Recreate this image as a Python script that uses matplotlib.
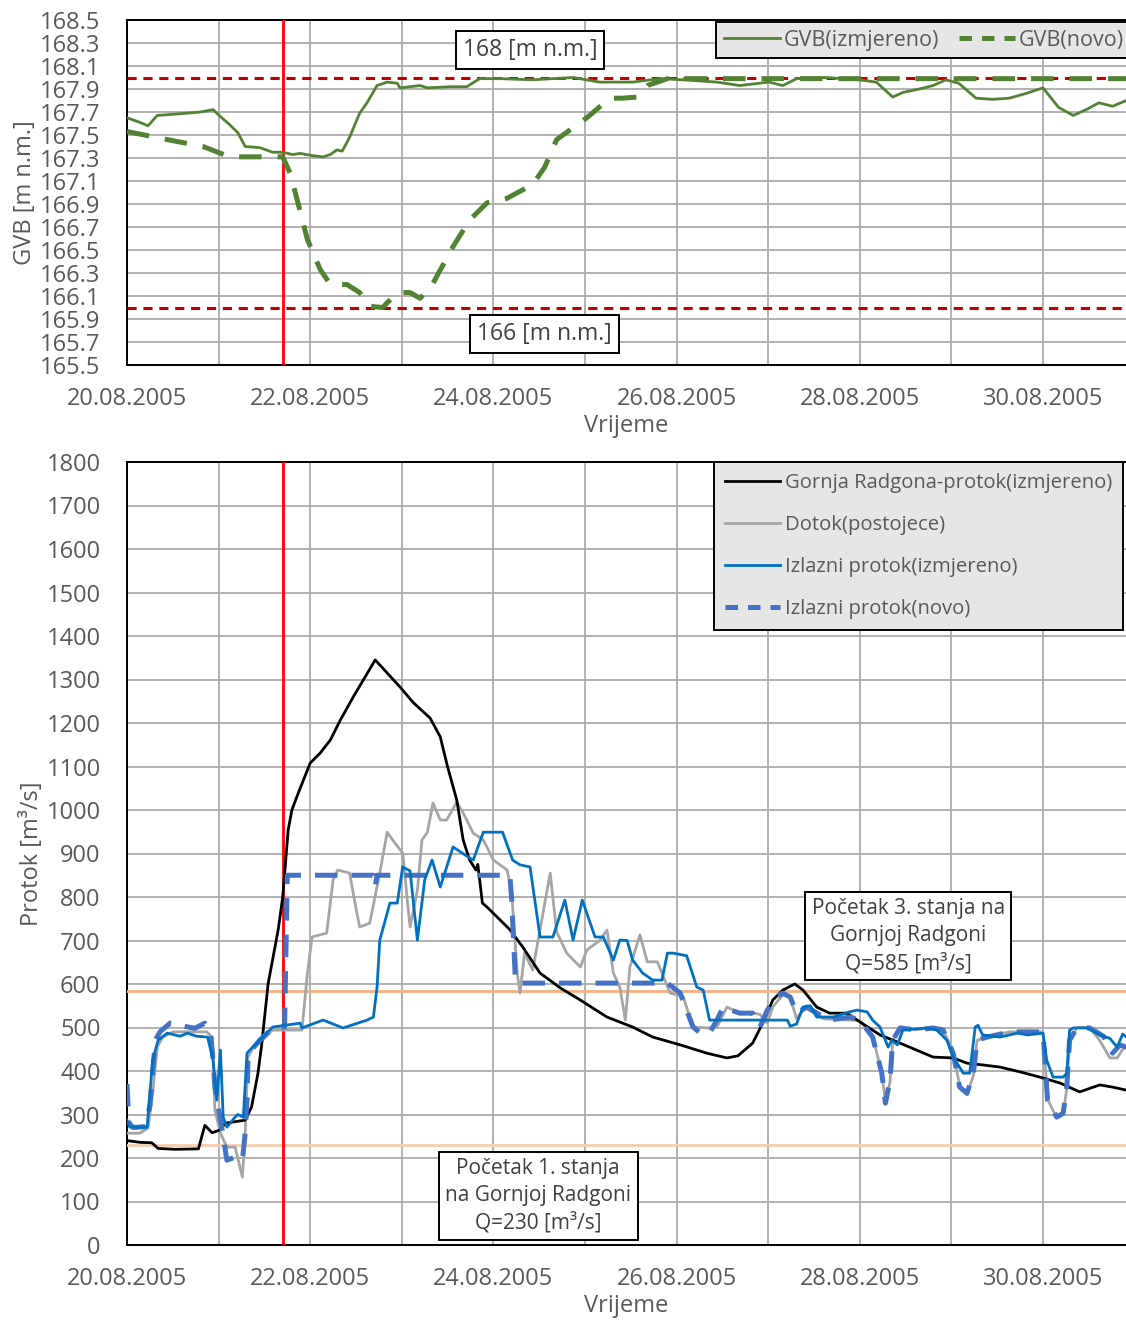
import numpy as np
import matplotlib
matplotlib.use('Agg')
import matplotlib.pyplot as plt
import matplotlib.dates as mdates
from matplotlib.lines import Line2D

plt.rcParams['font.family'] = ['Open Sans', 'DejaVu Sans']

# ---------------- data (days after 20.08.2005 00:00) ----------------
gvb_izm_t = [0.00, 0.14, 0.23, 0.33, 0.50, 0.66, 0.80, 0.94, 1.02, 1.12, 1.21, 1.29, 1.45, 1.59, 1.70,
             1.81, 1.89, 2.03, 2.14, 2.22, 2.29, 2.35, 2.43, 2.54, 2.62, 2.73, 2.84, 2.95, 2.98, 3.09,
             3.20, 3.28, 3.53, 3.71, 3.85, 4.07, 4.43, 4.87, 5.16, 5.52, 5.82, 6.07, 6.44, 6.69, 7.01,
             7.16, 7.31, 7.63, 7.99, 8.18, 8.36, 8.47, 8.65, 8.80, 8.94, 9.08, 9.27, 9.45, 9.63, 9.81,
             10.00, 10.17, 10.33, 10.47, 10.61, 10.76, 10.91]
gvb_izm_v = [167.65, 167.61, 167.58, 167.67, 167.68, 167.69, 167.70, 167.72, 167.66, 167.59, 167.52, 167.40,
             167.39, 167.35, 167.35, 167.33, 167.34, 167.32, 167.31, 167.33, 167.37, 167.36, 167.48, 167.69,
             167.78, 167.93, 167.96, 167.95, 167.91, 167.92, 167.93, 167.91, 167.92, 167.92, 167.99, 167.99,
             167.98, 168.00, 167.96, 167.96, 167.99, 167.98, 167.96, 167.93, 167.96, 167.93, 167.99, 168.00,
             167.98, 167.96, 167.83, 167.87, 167.90, 167.93, 167.98, 167.95, 167.82, 167.81, 167.82, 167.86,
             167.91, 167.74, 167.67, 167.72, 167.78, 167.75, 167.80]

gvb_novo_t = [0.00, 0.44, 0.83, 1.12, 1.38, 1.70, 1.78, 1.86, 1.97, 2.11, 2.22, 2.40, 2.54, 2.65, 2.79,
              2.95, 3.09, 3.20, 3.34, 3.56, 3.74, 3.93, 4.15, 4.43, 4.56, 4.69, 5.02, 5.27, 5.41, 5.57,
              5.68, 5.90, 10.91]
gvb_novo_v = [167.53, 167.46, 167.40, 167.31, 167.31, 167.31, 167.17, 166.93, 166.59, 166.33, 166.20, 166.20,
              166.13, 166.01, 166.00, 166.13, 166.13, 166.08, 166.21, 166.53, 166.76, 166.91, 166.95, 167.07,
              167.22, 167.46, 167.65, 167.82, 167.82, 167.83, 167.93, 167.99, 167.99]

gr_t = [0.00, 0.14, 0.27, 0.34, 0.52, 0.78, 0.85, 0.93, 1.02, 1.07, 1.29, 1.36, 1.43, 1.47, 1.54, 1.65,
        1.70, 1.76, 1.80, 1.87, 2.00, 2.11, 2.22, 2.33, 2.47, 2.60, 2.71, 2.84, 2.98, 3.12, 3.31, 3.42,
        3.50, 3.60, 3.67, 3.74, 3.81, 3.83, 3.88, 3.93, 4.04, 4.18, 4.32, 4.51, 4.73, 4.95, 5.24, 5.52,
        5.74, 6.04, 6.33, 6.55, 6.67, 6.83, 6.94, 7.05, 7.16, 7.29, 7.38, 7.53, 7.67, 7.86, 8.00, 8.22,
        8.44, 8.80, 9.02, 9.17, 9.34, 9.53, 9.75, 10.00, 10.19, 10.40, 10.62, 10.76, 10.91]
gr_v = [240, 236, 235, 222, 220, 221, 275, 258, 265, 280, 287, 317, 395, 460, 600, 724,
        800, 954, 1000, 1039, 1108, 1131, 1161, 1207, 1260, 1306, 1345, 1315, 1283, 1248, 1211, 1168,
        1099, 1023, 931, 885, 862, 875, 786, 777, 754, 725, 685, 625, 591, 563, 524, 501,
        478, 460, 441, 430, 435, 464, 510, 563, 586, 600, 586, 547, 533, 533, 513, 483,
        464, 432, 430, 418, 414, 409, 398, 384, 372, 352, 368, 363, 356]

dot_t = [0.00, 0.14, 0.23, 0.28, 0.33, 0.39, 0.50, 0.87, 0.93, 0.96, 1.02, 1.09, 1.18, 1.26, 1.29, 1.32,
         1.38, 1.48, 1.59, 1.91, 1.97, 2.02, 2.18, 2.25, 2.30, 2.43, 2.51, 2.54, 2.65, 2.76, 2.84, 2.90,
         3.01, 3.06, 3.09, 3.17, 3.22, 3.28, 3.34, 3.42, 3.49, 3.60, 3.67, 3.78, 3.89, 4.00, 4.15, 4.20,
         4.26, 4.29, 4.34, 4.43, 4.62, 4.69, 4.80, 4.95, 5.02, 5.16, 5.24, 5.31, 5.38, 5.44, 5.49, 5.60,
         5.68, 5.79, 5.93, 6.07, 6.18, 6.33, 6.44, 6.55, 6.69, 6.80, 6.91, 6.99, 7.05, 7.16, 7.24, 7.31,
         7.38, 7.46, 7.60, 7.78, 8.00, 8.14, 8.24, 8.28, 8.33, 8.36, 8.44, 8.62, 8.80, 8.91, 9.02, 9.09,
         9.17, 9.24, 9.28, 9.39, 9.64, 10.00, 10.05, 10.15, 10.22, 10.26, 10.29, 10.37, 10.51, 10.62,
         10.73, 10.81, 10.87, 10.91]
dot_v = [257, 257, 269, 349, 455, 478, 490, 490, 478, 310, 257, 225, 225, 156, 257, 432,
         455, 471, 494, 494, 625, 708, 717, 839, 862, 855, 763, 731, 740, 855, 949, 931,
         901, 793, 731, 816, 931, 949, 1016, 977, 977, 1018, 993, 947, 931, 885, 862, 809,
         625, 579, 671, 632, 855, 720, 671, 639, 678, 700, 724, 625, 593, 517, 639, 713,
         651, 651, 579, 572, 501, 499, 501, 547, 533, 535, 530, 510, 547, 575, 570, 520,
         540, 545, 520, 518, 516, 480, 395, 330, 375, 470, 500, 495, 500, 494, 445, 365,
         345, 390, 470, 480, 490, 490, 335, 292, 300, 360, 470, 500, 500, 470,
         430, 430, 450, 455]

izl_t = [0.00, 0.03, 0.22, 0.28, 0.34, 0.44, 0.58, 0.66, 0.76, 0.88, 0.94, 0.98, 1.02, 1.05, 1.09, 1.18,
         1.21, 1.27, 1.31, 1.34, 1.45, 1.59, 1.89, 1.91, 2.14, 2.36, 2.62, 2.69, 2.73, 2.76, 2.87, 2.95,
         3.01, 3.09, 3.17, 3.25, 3.33, 3.42, 3.56, 3.71, 3.78, 3.89, 4.10, 4.21, 4.29, 4.40, 4.51, 4.65,
         4.78, 4.87, 4.97, 5.11, 5.20, 5.31, 5.38, 5.46, 5.52, 5.63, 5.74, 5.84, 5.90, 5.96, 6.11, 6.22,
         6.29, 6.36, 6.51, 6.69, 6.91, 7.21, 7.24, 7.31, 7.38, 7.46, 7.53, 7.71, 7.89, 7.97, 8.08, 8.14,
         8.22, 8.31, 8.35, 8.41, 8.47, 8.73, 8.84, 8.95, 9.02, 9.13, 9.20, 9.26, 9.29, 9.34, 9.53, 9.72,
         9.83, 10.00, 10.04, 10.11, 10.22, 10.26, 10.29, 10.33, 10.48, 10.62, 10.73, 10.81, 10.87, 10.91]
izl_v = [287, 271, 271, 425, 471, 487, 480, 487, 480, 478, 425, 333, 448, 294, 271, 294,
         300, 294, 441, 448, 471, 501, 510, 499, 517, 499, 517, 524, 593, 701, 786, 786,
         869, 860, 701, 839, 885, 823, 915, 894, 885, 949, 949, 885, 874, 869, 708, 708,
         793, 701, 793, 708, 708, 655, 701, 700, 655, 625, 609, 609, 671, 671, 665, 593,
         586, 517, 517, 517, 517, 517, 503, 508, 547, 550, 524, 524, 536, 540, 536, 517,
         501, 455, 471, 460, 494, 499, 494, 471, 432, 395, 395, 501, 505, 483, 478, 487,
         483, 487, 425, 386, 386, 395, 494, 499, 499, 483, 475, 455, 485, 478]

novo_t = [0.00, 0.02, 0.07, 0.20, 0.25, 0.31, 0.36, 0.47, 0.58, 0.74, 0.85, 0.91, 0.94, 0.96, 1.05, 1.09,
          1.18, 1.26, 1.29, 1.31, 1.32, 1.36, 1.45, 1.53, 1.64, 1.72, 1.75, 2.69, 2.71, 2.73, 4.18, 4.20,
          4.24, 4.27, 5.90, 6.04, 6.11, 6.18, 6.26, 6.36, 6.44, 6.51, 6.55, 6.69, 6.83, 6.91, 6.99, 7.08,
          7.16, 7.24, 7.31, 7.42, 7.53, 7.67, 7.89, 8.00, 8.14, 8.24, 8.28, 8.33, 8.36, 8.44, 8.62, 8.80,
          8.91, 9.02, 9.09, 9.17, 9.24, 9.28, 9.39, 9.64, 10.00, 10.05, 10.15, 10.22, 10.26, 10.29, 10.37,
          10.51, 10.66, 10.76, 10.84, 10.91]
novo_v = [370, 280, 270, 272, 320, 471, 490, 510, 505, 498, 510, 494, 425, 363, 250, 195,
          202, 195, 257, 333, 425, 448, 471, 487, 501, 501, 850, 850, 823, 850, 850, 793,
          609, 602, 602, 579, 540, 501, 487, 487, 517, 547, 543, 533, 533, 501, 540, 570,
          579, 570, 533, 547, 533, 517, 524, 517, 478, 395, 326, 379, 471, 499, 494, 499,
          494, 441, 363, 349, 395, 471, 478, 490, 490, 333, 294, 303, 363, 471, 499,
          499, 480, 441, 460, 455]

gvb_limits = [168.0, 166.0]
q_states = [585, 230]
event_day = 1.70
x_max_day = 10.906

START = np.datetime64('2005-08-20T00:00')


def to_dt(days):
    return START + np.round(np.asarray(days, dtype=float) * 1440).astype('timedelta64[m]')


TXT = '#595959'
GRID = '#ABABAB'
FS = 15.5
TFS = 17

fig = plt.figure(figsize=(11.26, 13.22), dpi=100)
W, H = 1126, 1322
ax1 = fig.add_axes([127 / W, 1 - 365 / H, 999 / W, 345 / H])
ax2 = fig.add_axes([127 / W, 1 - 1245 / H, 999 / W, 783 / H])


def style(ax):
    ax.set_xlim(to_dt(0), to_dt(x_max_day))
    ax.xaxis.set_major_locator(mdates.DayLocator(bymonthday=[20, 22, 24, 26, 28, 30]))
    ax.xaxis.set_minor_locator(mdates.DayLocator())
    ax.xaxis.set_major_formatter(mdates.DateFormatter('%d.%m.%Y'))
    ax.grid(True, which='both', axis='x', color=GRID, lw=1.3)
    ax.grid(True, which='major', axis='y', color=GRID, lw=1.3)
    ax.tick_params(which='both', length=0, colors=TXT, labelsize=TFS)
    ax.tick_params(axis='x', pad=16)
    ax.tick_params(axis='y', pad=19)
    ax.set_axisbelow(True)
    for s in ['left', 'bottom', 'top']:
        ax.spines[s].set_color('black')
        ax.spines[s].set_linewidth(1.4)
    ax.spines['right'].set_visible(False)
    ax.set_xlabel('Vrijeme', color=TXT, fontsize=TFS, labelpad=2)


# ---------------- top chart ----------------
style(ax1)
ax1.set_ylim(165.5, 168.5)
ax1.set_yticks(np.round(np.arange(165.5, 168.51, 0.2), 1))
ax1.yaxis.set_major_formatter(matplotlib.ticker.FormatStrFormatter('%.1f'))
for lv in gvb_limits:
    ax1.axhline(lv, color='#C00000', lw=2.2, dashes=(3, 2.2), zorder=3)
ax1.axvline(to_dt(event_day), color='#FF0000', lw=2.0, zorder=4)
ax1.plot(to_dt(gvb_izm_t), gvb_izm_v, color='#548235', lw=2.0, zorder=5)
ax1.plot(to_dt(gvb_novo_t), gvb_novo_v, color='#548235', lw=3.6, dashes=(4.5, 3.2), zorder=5)
ax1.set_ylabel('GVB [m n.m.]', color=TXT, fontsize=TFS, labelpad=2)

box = dict(boxstyle='square,pad=0.3', fc='white', ec='black', lw=1.4)
ax1.text(to_dt(4.40), 168.24, '168 [m n.m.]', ha='center', va='center', fontsize=FS + 1,
         color='#404040', bbox=box, zorder=6)
ax1.text(to_dt(4.56), 165.77, '166 [m n.m.]', ha='center', va='center', fontsize=FS + 1,
         color='#404040', bbox=box, zorder=6)

h1 = [Line2D([], [], color='#548235', lw=2.0),
      Line2D([], [], color='#548235', lw=3.6, dashes=(2.5, 2.0))]
leg1 = ax1.legend(h1, ['GVB(izmjereno)', 'GVB(novo)'], ncol=2, loc='upper left',
                  bbox_to_anchor=(0.5896, 0.994), fontsize=FS, frameon=True, fancybox=False,
                  facecolor='#E7E6E6', edgecolor='black', framealpha=1, handlelength=2.6,
                  handletextpad=0.2, columnspacing=0.9, borderpad=0.35, borderaxespad=0)
leg1.get_frame().set_linewidth(1.4)
for t in leg1.get_texts():
    t.set_color(TXT)

# ---------------- bottom chart ----------------
style(ax2)
ax2.set_ylim(0, 1800)
ax2.set_yticks(np.arange(0, 1801, 100))
ax2.axhline(q_states[0], color='#F4B183', lw=2.0, zorder=3)
ax2.axhline(q_states[1], color='#F8CBAD', lw=2.0, zorder=3)
ax2.axvline(to_dt(event_day), color='#FF0000', lw=2.0, zorder=4)
ax2.plot(to_dt(dot_t), dot_v, color='#A5A5A5', lw=2.0, zorder=5)
ax2.plot(to_dt(gr_t), gr_v, color='black', lw=2.0, zorder=6)
ax2.plot(to_dt(izl_t), izl_v, color='#0070C0', lw=2.0, zorder=7)
ax2.plot(to_dt(novo_t), novo_v, color='#4472C4', lw=3.6, dashes=(4.5, 2.8), zorder=6)
ax2.set_ylabel('Protok [m³/s]', color=TXT, fontsize=TFS, labelpad=2)

ax2.text(to_dt(8.53), 710, 'Početak 3. stanja na\nGornjoj Radgoni\nQ=585 [m³/s]', ha='center',
         va='center', fontsize=FS - 0.5, color='#404040', linespacing=1.38, bbox=box, zorder=8)
ax2.text(to_dt(4.49), 113, 'Početak 1. stanja\nna Gornjoj Radgoni\nQ=230 [m³/s]', ha='center',
         va='center', fontsize=FS - 0.5, color='#404040', linespacing=1.38, bbox=box, zorder=8)

h2 = [Line2D([], [], color='black', lw=2.0),
      Line2D([], [], color='#A5A5A5', lw=2.0),
      Line2D([], [], color='#0070C0', lw=2.0),
      Line2D([], [], color='#4472C4', lw=3.6, dashes=(2.5, 2.0))]
leg2 = ax2.legend(h2, ['Gornja Radgona-protok(izmjereno)', 'Dotok(postojece)',
                       'Izlazni protok(izmjereno)', 'Izlazni protok(novo)'],
                  loc='upper left', bbox_to_anchor=(0.5876, 1.0), fontsize=14.6, frameon=True,
                  fancybox=False, facecolor='#E7E6E6', edgecolor='black', framealpha=1,
                  handlelength=2.7, handletextpad=0.25, labelspacing=1.08, borderpad=0.55,
                  borderaxespad=0)
leg2.get_frame().set_linewidth(1.4)
for t in leg2.get_texts():
    t.set_color(TXT)

fig.savefig('out.png', dpi=100)
